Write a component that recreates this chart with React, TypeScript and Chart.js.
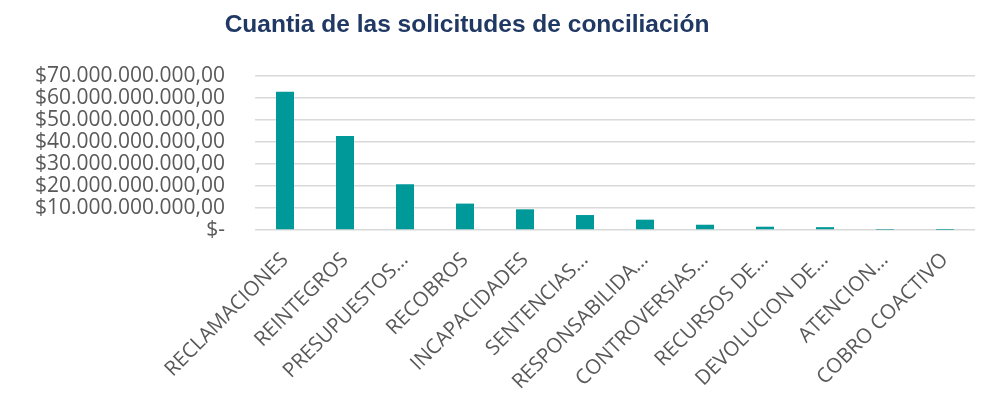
import React, { useEffect, useRef } from "react";
import { Chart, registerables } from "chart.js";

Chart.register(...registerables);

const TITLE = "Cuantia de las solicitudes de conciliación";

const categories: string[] = [
  "RECLAMACIONES",
  "REINTEGROS",
  "PRESUPUESTOS…",
  "RECOBROS",
  "INCAPACIDADES",
  "SENTENCIAS…",
  "RESPONSABILIDA…",
  "CONTROVERSIAS…",
  "RECURSOS DE…",
  "DEVOLUCION DE…",
  "ATENCION…",
  "COBRO COACTIVO",
];

const cuantia: number[] = [
  62.8e9, 42.7e9, 20.8e9, 12.0e9, 9.4e9, 6.8e9, 4.7e9, 2.4e9, 1.5e9, 1.3e9, 0.1e9, 0.05e9,
];

const Y_MIN = 0;
const Y_MAX = 70e9;
const Y_TICK_COUNT = 8;

function formatPesos(v: number): string {
  if (v === 0) return "$-";
  const s = Math.round(v).toString().replace(/\B(?=(\d{3})+(?!\d))/g, ".");
  return "$" + s + ",00";
}

const titlePlugin = {
  id: "customTitle",
  afterDraw(chart: any) {
    const ctx = chart.ctx;
    ctx.save();
    ctx.font = "bold 24.5px 'Liberation Sans', Arial, sans-serif";
    ctx.fillStyle = "#203864";
    ctx.textAlign = "center";
    ctx.textBaseline = "alphabetic";
    ctx.fillText(TITLE, 467, 32);
    ctx.restore();
  },
};

export default function App() {
  const ref = useRef<HTMLCanvasElement | null>(null);
  useEffect(() => {
    if (!ref.current) return;
    const chart = new Chart(ref.current, {
      type: "bar",
      data: {
        labels: categories,
        datasets: [
          {
            label: "Cuantía",
            data: cuantia,
            backgroundColor: "#009999",
            categoryPercentage: 1,
            barPercentage: 0.3,
          },
        ],
      },
      options: {
        animation: false,
        responsive: false,
        maintainAspectRatio: false,
        layout: { padding: { top: 76, right: 14, left: 0, bottom: 0 } },
        plugins: {
          legend: { display: false },
          title: { display: false },
          tooltip: { enabled: false },
        },
        scales: {
          x: {
            grid: { display: false },
            border: { display: false },
            ticks: {
              autoSkip: false,
              maxRotation: 45,
              minRotation: 45,
              padding: 10,
              color: "#595959",
              font: { family: "'Open Sans', sans-serif", size: 20.5 },
            },
            afterFit(scale: any) {
              scale.height = 172;
            },
          },
          y: {
            min: Y_MIN,
            max: Y_MAX,
            border: { display: false },
            grid: { color: "#d9d9d9", lineWidth: 1.5, drawTicks: false },
            ticks: {
              count: Y_TICK_COUNT,
              autoSkip: false,
              padding: 30,
              color: "#595959",
              font: { family: "'Open Sans', sans-serif", size: 21, lineHeight: 1 },
              callback: (v: any) => formatPesos(Number(v)),
            },
            afterFit(scale: any) {
              scale.width = 255;
            },
          },
        },
      },
      plugins: [titlePlugin],
    });
    return () => chart.destroy();
  }, []);
  return (
    <div style={{ position: "fixed", left: 0, top: 0, width: 989, height: 402, background: "#fff" }}>
      <canvas ref={ref} width={989} height={402} style={{ width: 989, height: 402 }} />
    </div>
  );
}
